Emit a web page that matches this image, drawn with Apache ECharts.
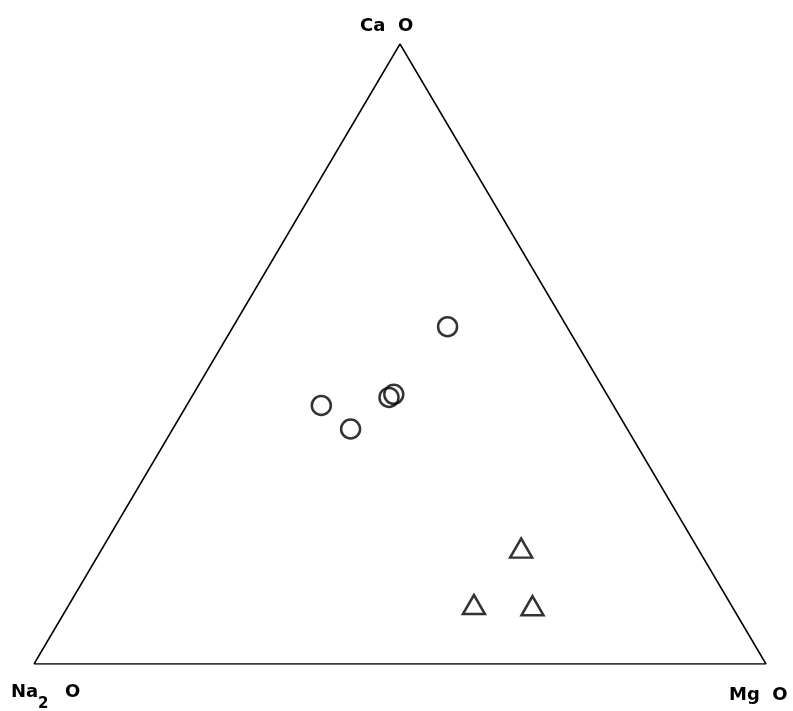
<!DOCTYPE html>
<html>
<head>
<meta charset="utf-8">
<script src="https://cdn.jsdelivr.net/npm/echarts@6/dist/echarts.min.js"></script>
<style>
  html, body { margin: 0; padding: 0; background: #fff; }
  #chart { width: 793px; height: 711px; }
</style>
</head>
<body>
<div id="chart"></div>
<script>
// 三元图数据 (wt%)
var cornerNames = ['Ca  O', 'Na', 'Mg  O'];

var circleCaO  = [54.4, 41.7, 37.9, 43.0, 43.5];
var circleNa2O = [16.3, 39.9, 37.8, 30.0, 29.1];
var circleMgO  = [29.3, 18.4, 24.3, 27.0, 27.4];

var triCaO  = [18.7, 9.6, 9.4];
var triNa2O = [24.1, 35.1, 27.2];
var triMgO  = [57.2, 55.3, 63.4];

// 三元坐标 -> 直角坐标: Na2O 左下, MgO 右下, CaO 顶
function toXY(ca, na, mg) {
    var s = ca + na + mg;
    var c = ca / s, m = mg / s;
    return [m + c / 2, c];
}

function buildPoints(ca, na, mg) {
    return ca.map(function (v, i) { return toXY(v, na[i], mg[i]); });
}

// 三角形外框 (各端元 100%)
var frame = [toXY(0, 100, 0), toXY(0, 0, 100), toXY(100, 0, 0), toXY(0, 100, 0)];

var chart = echarts.init(document.getElementById('chart'));

function label(text, x, y, size) {
    return {
        type: 'text', left: x, top: y,
        style: { text: text, fontFamily: 'DejaVu Sans', fontWeight: 'bold', fontSize: size || 18, fill: '#000' }
    };
}

var option = {
    backgroundColor: '#fff',
    animation: false,
    grid: { left: 34, right: 27, top: 44, bottom: 47 },
    xAxis: { type: 'value', min: 0, max: 1, show: false },
    yAxis: { type: 'value', min: 0, max: 1, show: false },
    series: [
        {
            type: 'line',
            data: frame,
            symbol: 'none',
            lineStyle: { color: '#000', width: 1.5 },
            z: 1
        },
        {
            name: 'circles',
            type: 'scatter',
            data: buildPoints(circleCaO, circleNa2O, circleMgO),
            symbol: 'circle',
            symbolSize: 19,
            itemStyle: { color: 'rgba(0,0,0,0)', borderColor: '#000', borderWidth: 2.5 },
            z: 2
        },
        {
            name: 'triangles',
            type: 'scatter',
            data: buildPoints(triCaO, triNa2O, triMgO),
            symbol: 'triangle',
            symbolSize: [22, 19],
            itemStyle: { color: 'rgba(0,0,0,0)', borderColor: '#000', borderWidth: 2.5 },
            z: 2
        }
    ],
    graphic: [
        label(cornerNames[0], 360, 17),
        label(cornerNames[1], 11, 683),
        label('2', 38, 697, 15),
        label('O', 65, 683),
        label(cornerNames[2], 729, 686)
    ]
};

chart.setOption(option);
</script>
</body>
</html>
